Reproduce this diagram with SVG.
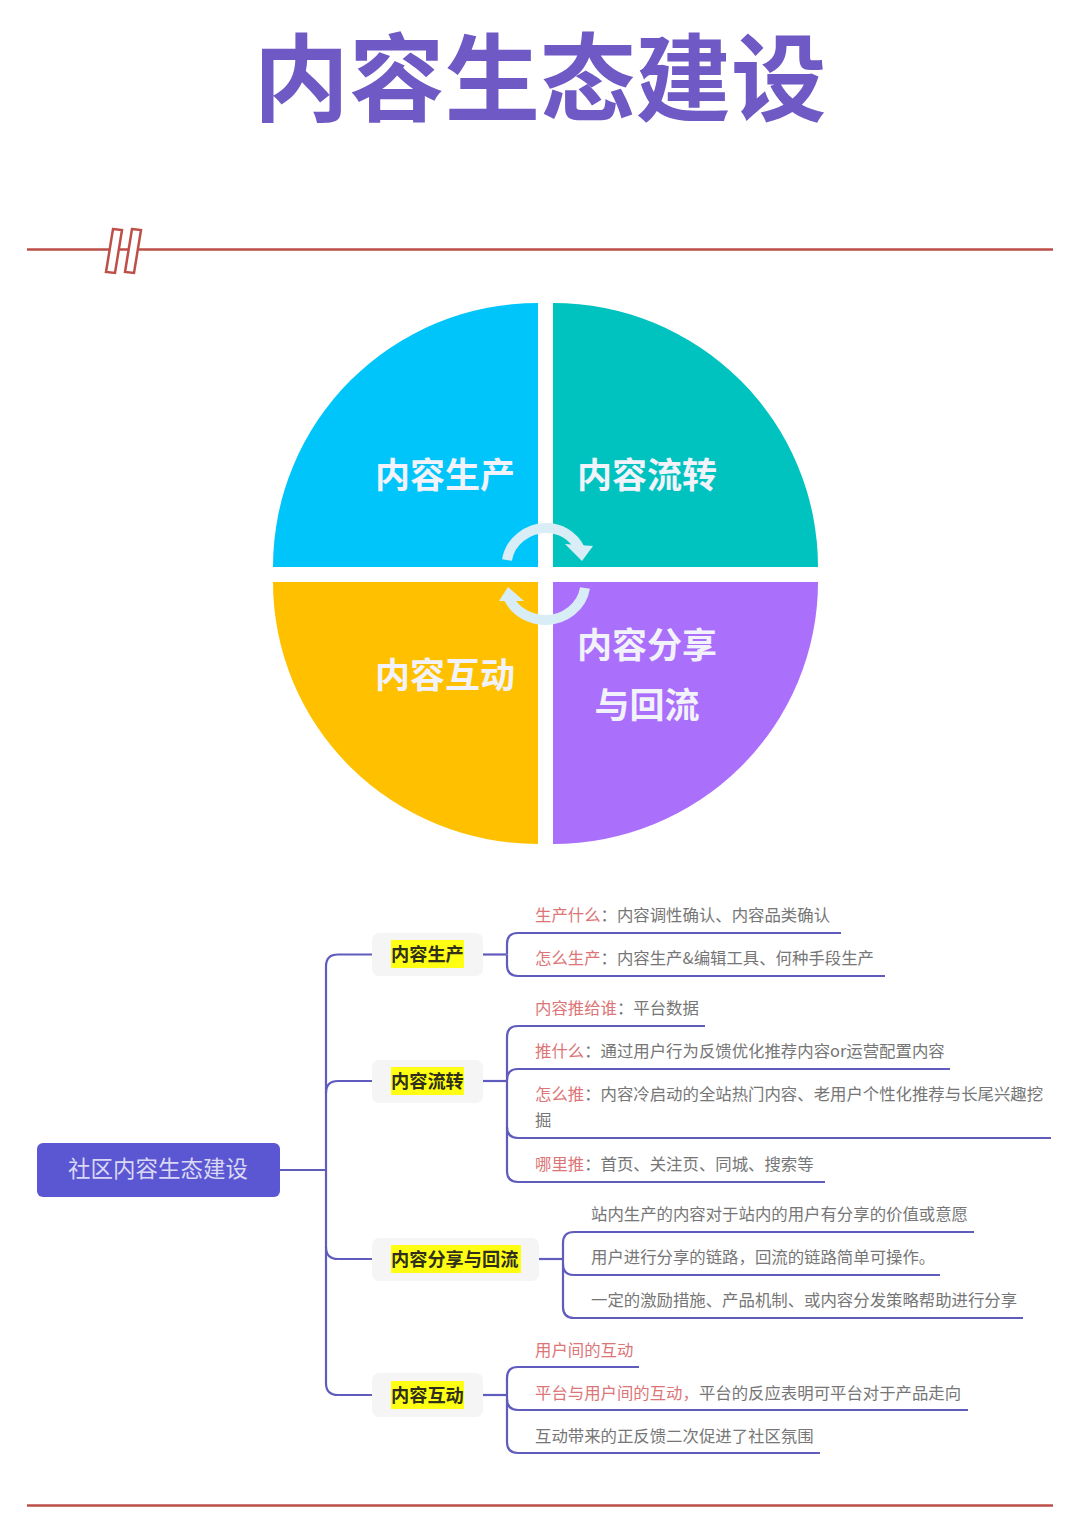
<svg xmlns="http://www.w3.org/2000/svg" width="1080" height="1534" viewBox="0 0 1080 1534">
<style>
text{font-family:"Noto Sans CJK SC","Liberation Sans",sans-serif}
.rule{stroke:#bd4f48;stroke-width:2.600;fill:none}
.c{stroke:#605cbd;stroke-width:2.200;fill:none}
.pie{font-size:35px;font-weight:700;fill:#f2f2fb;text-anchor:middle}
.k{font-size:18.200px;font-weight:700;fill:#2f2f1c}
.hl{fill:#ffff14}
.box{fill:#f5f5f5}
.t{font-size:16.400px;fill:#767676}
.r{fill:#dc7577}
.arc{fill:none;stroke:#d8edf6;stroke-width:10}
.head{fill:#d8edf6}
</style>
<text x="540" y="114" text-anchor="middle" font-size="95.500" font-weight="700" fill="#6f59c4">内容生态建设</text>
<g id="rule-top">
<path class="rule" d="M27 249.500H1053"/>
<path fill="#fff" stroke="#bd4f48" stroke-width="2.500" d="M113 229l9 1-7 43-9-1zM132 229l9 1-7 43-9-1z"/>
</g>
<g id="pie">
<path id="q1" fill="#00c5fb" d="M538 303V567H273A265 264 0 0 1 538 303Z"/>
<path id="q2" fill="#00c3bf" d="M553 303V567H818A265 264 0 0 0 553 303Z"/>
<path id="q3" fill="#ffc000" d="M538 844V582H273A265 262 0 0 0 538 844Z"/>
<path id="q4" fill="#ab70fb" d="M553 844V582H818A265 262 0 0 1 553 844Z"/>
<path class="arc" d="M507 560C510 541 528 528 546 528C560 528 573 535 580 549"/>
<path class="head" d="M565 544L593 546L582 561Z"/>
<path class="arc" d="M585 588C582 607 564 620 546 620C530 620 516 612 509 599"/>
<path class="head" d="M499 601L508 587L524 601Z"/>
<text class="pie" x="445" y="488">内容生产</text>
<text class="pie" x="647" y="488">内容流转</text>
<text class="pie" x="445" y="688">内容互动</text>
<text class="pie" x="647" y="658">内容分享</text>
<text class="pie" x="647" y="718">与回流</text>
</g>
<g id="connectors">
<path class="c" d="M280 1170H326"/>
<path class="c" d="M372 954.500H338Q326 954.500 326 966.500V1383Q326 1395 338 1395H372"/>
<path class="c" d="M372 1081H338Q326 1081 326 1093"/>
<path class="c" d="M372 1259H338Q326 1259 326 1247"/>
<path class="c" d="M483 954.500H506"/>
<path class="c" d="M507 954.500V944Q507 933 518 933H841"/>
<path class="c" d="M507 954.500V965Q507 976 518 976H885"/>
<path class="c" d="M483 1081H506"/>
<path class="c" d="M705 1026H518Q507 1026 507 1037V1171Q507 1182 518 1182H825"/>
<path class="c" d="M950 1069H518Q507 1069 507 1080"/>
<path class="c" d="M1051 1138H518Q507 1138 507 1127"/>
<path class="c" d="M539 1259H562"/>
<path class="c" d="M974 1232H574Q563 1232 563 1243V1307Q563 1318 574 1318H1023"/>
<path class="c" d="M940 1275H574Q563 1275 563 1264"/>
<path class="c" d="M483 1395H506"/>
<path class="c" d="M639 1367H518Q507 1367 507 1378V1442Q507 1453 518 1453H820"/>
<path class="c" d="M968 1410H518Q507 1410 507 1399"/>
</g>
<g id="root">
<rect x="37" y="1143" width="243" height="54" rx="6" fill="#5b56d2"/>
<text x="158" y="1177" text-anchor="middle" font-size="22.500" fill="#d9d8f4">社区内容生态建设</text>
</g>
<g id="n1"><rect class="box" x="372" y="933" width="111" height="43" rx="7"/><rect class="hl" x="391" y="940" width="73" height="28"/><text class="k" x="391" y="960.500">内容生产</text></g>
<g id="n2"><rect class="box" x="372" y="1060" width="111" height="43" rx="7"/><rect class="hl" x="391" y="1067" width="73" height="28"/><text class="k" x="391" y="1087.500">内容流转</text></g>
<g id="n3"><rect class="box" x="372" y="1238" width="167" height="43" rx="7"/><rect class="hl" x="391" y="1245" width="130" height="28"/><text class="k" x="391" y="1265.500">内容分享与回流</text></g>
<g id="n4"><rect class="box" x="372" y="1373" width="111" height="44" rx="7"/><rect class="hl" x="391" y="1381" width="73" height="28"/><text class="k" x="391" y="1401.500">内容互动</text></g>
<g id="l1"><text class="t" x="535" y="921"><tspan class="r">生产什么</tspan>：内容调性确认、内容品类确认</text></g>
<g id="l2"><text class="t" x="535" y="964"><tspan class="r">怎么生产</tspan>：内容生产&amp;编辑工具、何种手段生产</text></g>
<g id="l3"><text class="t" x="535" y="1014"><tspan class="r">内容推给谁</tspan>：平台数据</text></g>
<g id="l4"><text class="t" x="535" y="1057"><tspan class="r">推什么</tspan>：通过用户行为反馈优化推荐内容or运营配置内容</text></g>
<g id="l5"><text class="t" x="535" y="1100"><tspan class="r">怎么推</tspan>：内容冷启动的全站热门内容、老用户个性化推荐与长尾兴趣挖</text><text class="t" x="535" y="1126">掘</text></g>
<g id="l6"><text class="t" x="535" y="1170"><tspan class="r">哪里推</tspan>：首页、关注页、同城、搜索等</text></g>
<g id="l7"><text class="t" x="591" y="1220">站内生产的内容对于站内的用户有分享的价值或意愿</text></g>
<g id="l8"><text class="t" x="591" y="1263">用户进行分享的链路，回流的链路简单可操作。</text></g>
<g id="l9"><text class="t" x="591" y="1306">一定的激励措施、产品机制、或内容分发策略帮助进行分享</text></g>
<g id="l10"><text class="t r" x="535" y="1356">用户间的互动</text></g>
<g id="l11"><text class="t" x="535" y="1399"><tspan class="r">平台与用户间的互动，</tspan>平台的反应表明可平台对于产品走向</text></g>
<g id="l12"><text class="t" x="535" y="1442">互动带来的正反馈二次促进了社区氛围</text></g>
<g id="rule-bottom"><path class="rule" d="M27 1505.500H1053"/></g>
</svg>
